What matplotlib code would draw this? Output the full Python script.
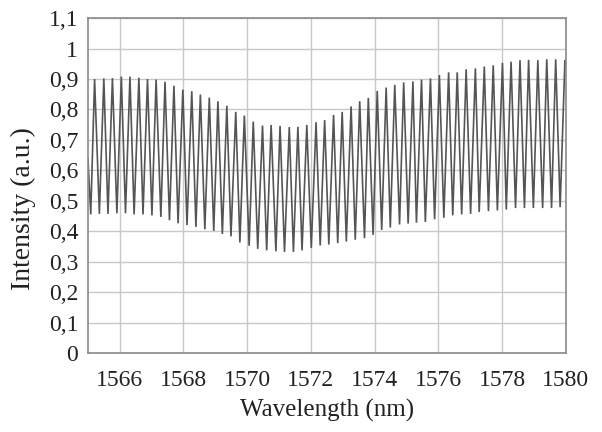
import numpy as np
import matplotlib
matplotlib.use("Agg")
import matplotlib.pyplot as plt

# fringe maxima (wavelength in nm, intensity)
peak_wl = [1565.21, 1565.50, 1565.77, 1566.05, 1566.32, 1566.60, 1566.87, 1567.14, 1567.42, 1567.70,
           1567.98, 1568.26, 1568.53, 1568.81, 1569.08, 1569.36, 1569.64, 1569.91, 1570.19, 1570.48,
           1570.75, 1571.03, 1571.32, 1571.59, 1571.87, 1572.16, 1572.43, 1572.71, 1572.98, 1573.26,
           1573.53, 1573.80, 1574.08, 1574.36, 1574.63, 1574.91, 1575.20, 1575.47, 1575.75, 1576.03,
           1576.32, 1576.59, 1576.87, 1577.16, 1577.44, 1577.72, 1578.01, 1578.28, 1578.56, 1578.83,
           1579.12, 1579.40, 1579.68, 1579.97]
peak_val = [0.900, 0.902, 0.903, 0.908, 0.908, 0.904, 0.900, 0.898, 0.891, 0.878,
            0.865, 0.860, 0.849, 0.839, 0.827, 0.812, 0.792, 0.780, 0.760, 0.747,
            0.749, 0.746, 0.742, 0.743, 0.749, 0.758, 0.765, 0.782, 0.792, 0.810,
            0.827, 0.838, 0.861, 0.872, 0.881, 0.889, 0.892, 0.898, 0.902, 0.913,
            0.922, 0.922, 0.932, 0.935, 0.941, 0.945, 0.953, 0.957, 0.962, 0.963,
            0.962, 0.965, 0.965, 0.962]

# fringe minima
trough_wl = [1565.09, 1565.36, 1565.63, 1565.91, 1566.18, 1566.45, 1566.73, 1567.01, 1567.29, 1567.56,
             1567.83, 1568.11, 1568.39, 1568.67, 1568.95, 1569.22, 1569.49, 1569.77, 1570.06, 1570.33,
             1570.61, 1570.90, 1571.17, 1571.45, 1571.72, 1572.01, 1572.29, 1572.56, 1572.84, 1573.11,
             1573.39, 1573.68, 1573.95, 1574.22, 1574.49, 1574.78, 1575.05, 1575.31, 1575.59, 1575.88,
             1576.17, 1576.45, 1576.73, 1577.01, 1577.28, 1577.57, 1577.85, 1578.13, 1578.42, 1578.70,
             1578.98, 1579.27, 1579.55, 1579.82]
trough_val = [0.455, 0.457, 0.457, 0.459, 0.459, 0.455, 0.455, 0.452, 0.447, 0.436,
              0.426, 0.420, 0.414, 0.406, 0.401, 0.391, 0.383, 0.363, 0.352, 0.342,
              0.337, 0.334, 0.332, 0.332, 0.337, 0.345, 0.353, 0.356, 0.361, 0.366,
              0.372, 0.377, 0.388, 0.404, 0.412, 0.422, 0.425, 0.428, 0.430, 0.439,
              0.444, 0.452, 0.455, 0.457, 0.463, 0.466, 0.468, 0.471, 0.476, 0.476,
              0.476, 0.476, 0.476, 0.479]

# values at the two edges of the window
start_wl, start_val = 1565.0, 0.64
end_wl, end_val = 1580.0, 0.95

x_ticks = [1566, 1568, 1570, 1572, 1574, 1576, 1578, 1580]
y_ticks = [0, 0.1, 0.2, 0.3, 0.4, 0.5, 0.6, 0.7, 0.8, 0.9, 1.0, 1.1]
y_labels = ['0', '0,1', '0,2', '0,3', '0,4', '0,5', '0,6', '0,7', '0,8', '0,9', '1', '1,1']

# put minima and maxima in order along the wavelength axis
wl = np.concatenate([[start_wl], np.column_stack([trough_wl, peak_wl]).ravel(), [end_wl]])
val = np.concatenate([[start_val], np.column_stack([trough_val, peak_val]).ravel(), [end_val]])

plt.rcParams['font.family'] = ['Liberation Serif', 'DejaVu Serif']

fig = plt.figure(figsize=(6.02, 4.32), dpi=100)
ax = fig.add_axes([0.146, 0.183, 0.794, 0.775])

ax.plot(wl, val, color='#555555', lw=1.2, solid_joinstyle='miter')

ax.set_xlim(1565, 1580)
ax.set_ylim(0, 1.1)
ax.set_xticks(x_ticks)
ax.set_yticks(y_ticks)
ax.set_yticklabels(y_labels)
ax.grid(True, color='#c8c8c8', lw=1.0)
ax.set_axisbelow(True)
ax.tick_params(length=0, labelsize=17, pad=7, colors='#222222')
ax.tick_params(axis='x', pad=12)
for s in ax.spines.values():
    s.set_color('#8a8a8a')
    s.set_linewidth(1.2)

ax.set_xlabel('Wavelength (nm)', fontsize=18, labelpad=6, color='#222222')
ax.set_ylabel('Intensity (a.u.)', fontsize=20, color='#222222')
ax.yaxis.set_label_coords(-0.108, 0.43)

fig.savefig('out.png', dpi=100)
